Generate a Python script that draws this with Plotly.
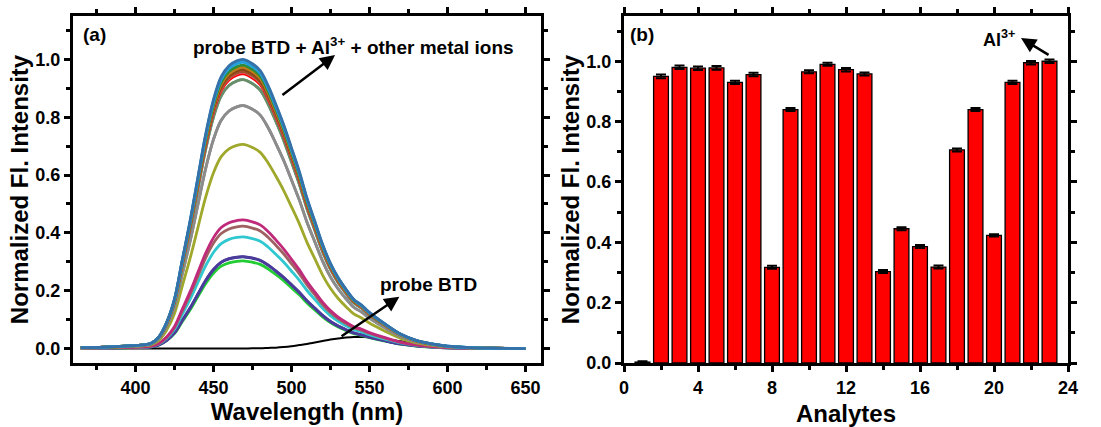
import plotly.graph_objects as go

# ---------------- data ----------------
wavelength = [365, 380, 395, 405, 410, 415, 420, 425, 430, 435, 440, 445, 450, 455,
              460, 465, 469, 475, 480, 485, 490, 495, 500, 505, 510, 515, 520, 525,
              530, 535, 540, 545, 550, 560, 570, 580, 590, 600, 615, 630, 650]
# normalized emission profile
emission_profile = [0.003, 0.005, 0.009, 0.013, 0.018, 0.040, 0.090, 0.170, 0.305, 0.440,
                    0.590, 0.740, 0.860, 0.940, 0.978, 0.995, 1.000, 0.985, 0.961, 0.910,
                    0.845, 0.775, 0.695, 0.613, 0.520, 0.440, 0.360, 0.295, 0.245, 0.205,
                    0.170, 0.150, 0.125, 0.085, 0.050, 0.028, 0.016, 0.008, 0.003, 0.001, 0.000]
probe_btd = [0.0, 0.0, 0.0, 0.0, 0.0, 0.0, 0.0, 0.0, 0.0, 0.0,
             0.0, 0.0, 0.0, 0.0, 0.0, 0.0, 0.0, 0.001, 0.001, 0.002,
             0.003, 0.005, 0.008, 0.012, 0.016, 0.021, 0.026, 0.031, 0.035, 0.038,
             0.040, 0.040, 0.039, 0.033, 0.025, 0.017, 0.010, 0.005, 0.002, 0.001, 0.0]

analytes = list(range(1, 24))
intensity = [0.003, 0.950, 0.980, 0.977, 0.978, 0.930, 0.956, 0.317, 0.840, 0.965,
             0.990, 0.972, 0.958, 0.303, 0.445, 0.386, 0.318, 0.706, 0.840, 0.423,
             0.930, 0.995, 1.000]
intensity_err = [0.003, 0.006, 0.006, 0.006, 0.006, 0.005, 0.006, 0.005, 0.005, 0.005,
                 0.005, 0.006, 0.005, 0.005, 0.005, 0.005, 0.005, 0.005, 0.005, 0.004,
                 0.005, 0.006, 0.006]

spectrum_colors = ['#FF0000', '#2E8B3A', '#D2691E', '#B8860B', '#5F9F7F', '#E07090',
                   '#3A3AA0', '#808080', '#8B4513', '#20A0E0', '#C08020', '#A0522D',
                   '#22CC33', '#C02A7A', '#30C8D0', '#4B3B9B', '#9FA82A', '#8C8C8C',
                   '#9E6060', '#6A8E6A', '#2A9ED8', '#3571A8']

FONT = 'Liberation Sans'

fig = go.Figure()

# ---------------- panel (a) ----------------
fig.add_trace(go.Scatter(x=wavelength, y=probe_btd, mode='lines',
                         line=dict(color='black', width=2, shape='spline'),
                         showlegend=False, xaxis='x', yaxis='y'))
order = sorted(range(len(spectrum_colors)), key=lambda i: intensity[i + 1])
for i in order:
    peak = intensity[i + 1]
    fig.add_trace(go.Scatter(x=wavelength, y=[v * peak for v in emission_profile],
                             mode='lines',
                             line=dict(color=spectrum_colors[i], width=2.8, shape='spline'),
                             showlegend=False, xaxis='x', yaxis='y'))

# ---------------- panel (b) ----------------
fig.add_trace(go.Bar(x=analytes, y=intensity, width=0.8,
                     marker=dict(color='#FF0000', line=dict(color='black', width=1.3)),
                     error_y=dict(type='data', array=intensity_err, color='black',
                                  thickness=2, width=5),
                     showlegend=False, xaxis='x2', yaxis='y2'))

tickfont = dict(family=FONT, size=18, color='black', weight='bold')
titlefont = dict(family=FONT, size=24, color='black', weight='bold')

def axis_style(**kw):
    d = dict(showline=True, linewidth=3, linecolor='black', mirror='allticks',
             ticks='outside', ticklen=6, tickwidth=2.5, tickcolor='black',
             showgrid=False, zeroline=False, tickfont=tickfont, automargin=False,
             minor=dict(ticks='outside', ticklen=4, tickwidth=2.5, tickcolor='black',
                        showgrid=False))
    d.update(kw)
    return d

ybot, ytop = 1 - 363 / 427, 1 - 16 / 427

fig.update_layout(
    width=1101, height=427,
    margin=dict(l=0, r=0, t=0, b=0),
    paper_bgcolor='white', plot_bgcolor='white',
    template='none',
    xaxis=axis_style(domain=[73 / 1101, 541 / 1101], range=[360, 660],
                     tickvals=[400, 450, 500, 550, 600, 650],
                     minor_dtick=25, minor_tick0=375,
                     title=dict(text='Wavelength (nm)', font=titlefont, standoff=0)),
    yaxis=axis_style(domain=[ybot, ytop], range=[-0.05, 1.15],
                     tickvals=[0, 0.2, 0.4, 0.6, 0.8, 1.0], tickformat='.1f',
                     minor_dtick=0.1, minor_tick0=0,
                     title=dict(text='Normalized Fl. Intensity', font=titlefont, standoff=0)),
    xaxis2=axis_style(domain=[624 / 1101, 1068 / 1101], range=[0, 24],
                      tickvals=[0, 4, 8, 12, 16, 20, 24], anchor='y2',
                      minor_dtick=2, minor_tick0=0,
                      title=dict(text='Analytes', font=titlefont, standoff=10)),
    yaxis2=axis_style(domain=[ybot, ytop], range=[0, 1.15], anchor='x2',
                      tickvals=[0, 0.2, 0.4, 0.6, 0.8, 1.0], tickformat='.1f',
                      minor_dtick=0.1, minor_tick0=0,
                      title=dict(text='Normalized Fl. Intensity', font=titlefont, standoff=0)),
)

annfont = dict(family=FONT, size=19, color='black', weight='bold')
anns = [
    dict(x=94.7 / 1101, y=1 - 35 / 427, xref='paper', yref='paper', text='(a)',
         showarrow=False, font=annfont, xanchor='center', yanchor='middle'),
    dict(x=642 / 1101, y=1 - 35 / 427, xref='paper', yref='paper', text='(b)',
         showarrow=False, font=annfont, xanchor='center', yanchor='middle'),
    dict(x=540, y=1.046, xref='x', yref='y',
         text='probe BTD + Al<sup>3+</sup> + other metal ions',
         showarrow=False, font=annfont, xanchor='center', yanchor='middle'),
    dict(x=528, y=1.015, ax=493.3, ay=0.873, xref='x', yref='y', axref='x', ayref='y',
         text='', showarrow=True, arrowhead=2, arrowsize=1.2, arrowwidth=2.5,
         arrowcolor='black'),
    dict(x=587.6, y=0.22, xref='x', yref='y', text='probe BTD',
         showarrow=False, font=annfont, xanchor='center', yanchor='middle'),
    dict(x=569.2, y=0.179, ax=531.2, ay=0.039, xref='x', yref='y', axref='x', ayref='y',
         text='', showarrow=True, arrowhead=2, arrowsize=1.2, arrowwidth=2.5,
         arrowcolor='black'),
    dict(x=20.27, y=1.077, xref='x2', yref='y2', text='Al<sup>3+</sup>',
         showarrow=False, font=dict(family=FONT, size=18, color='black', weight='bold'),
         xanchor='center', yanchor='middle'),
    dict(x=21.46, y=1.077, ax=23.03, ay=1.018, xref='x2', yref='y2', axref='x2',
         ayref='y2', text='', showarrow=True, arrowhead=2, arrowsize=1.2,
         arrowwidth=2.5, arrowcolor='black'),
]
fig.update_layout(annotations=anns)

fig.write_html('out.html')
